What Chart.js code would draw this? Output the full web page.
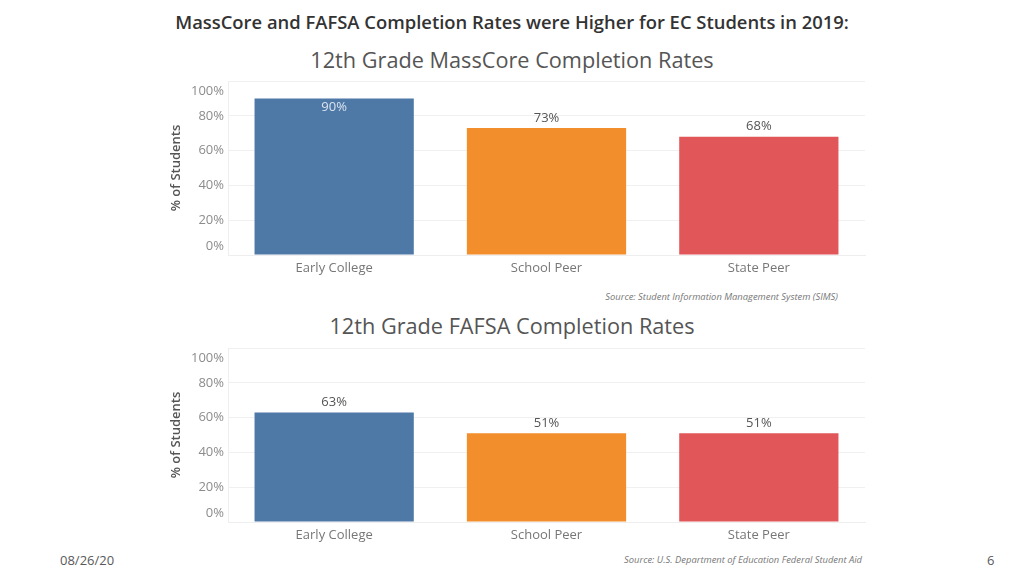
<!DOCTYPE html>
<html>
<head>
<meta charset="utf-8">
<script src="https://cdn.jsdelivr.net/npm/chart.js@4"></script>
<style>
  body { margin: 0; width: 1024px; height: 576px; background: #fff; position: relative; overflow: hidden; font-family: "Open Sans", sans-serif; }
  .t { position: absolute; white-space: nowrap; }
  .c { position: absolute; }
</style>
</head>
<body>
<div class="t" style="left:512px;top:9px;transform:translateX(-50%);font-size:18.4px;font-weight:600;color:#333;">MassCore and FAFSA Completion Rates were Higher for EC Students in 2019:</div>
<div class="t" style="left:512px;top:45px;transform:translateX(-50%);font-size:21.7px;color:#555;">12th Grade MassCore Completion Rates</div>
<div class="t" style="left:512px;top:311px;transform:translateX(-50%);font-size:21.7px;color:#555;">12th Grade FAFSA Completion Rates</div>
<div class="t" style="right:186px;top:290px;font-size:9.4px;font-style:italic;color:#777;">Source: Student Information Management System (SIMS)</div>
<div class="t" style="right:162px;top:553px;font-size:9.4px;font-style:italic;color:#777;">Source: U.S. Department of Education Federal Student Aid</div>
<div class="t" style="left:60px;top:551px;font-size:13px;color:#595959;">08/26/20</div>
<div class="t" style="left:987px;top:551px;font-size:13px;color:#595959;">6</div>

<canvas class="c" id="massCore" width="720" height="210" style="left:160px;top:75px;"></canvas>
<canvas class="c" id="fafsa" width="720" height="210" style="left:160px;top:342px;"></canvas>

<script>
// data
const groups = ["Early College", "School Peer", "State Peer"];
const massCoreRates = [90, 73, 68];
const fafsaRates = [63, 51, 51];
const yTicks = [0, 20, 40, 60, 80, 100];
const barColors = ["#4e79a7", "#f28e2b", "#e15759"];

// draws the y tick labels (end labels pulled inward, like the original) and the value labels
const labelPlugin = {
  id: "labels",
  afterDraw(chart) {
    const ctx = chart.ctx;
    const y = chart.scales.y;
    const area = chart.chartArea;
    ctx.save();
    ctx.font = '13px "Open Sans"';
    ctx.textBaseline = "middle";

    ctx.fillStyle = "#8c8c8c";
    ctx.textAlign = "right";
    yTicks.forEach(v => {
      let py = y.getPixelForValue(v);
      if (v === 0) py -= 9;
      if (v === 100) py += 10;
      ctx.fillText(v + "%", area.left - 4, py);
    });

    ctx.textAlign = "center";
    const meta = chart.getDatasetMeta(0);
    meta.data.forEach((bar, i) => {
      const v = chart.data.datasets[0].data[i];
      const inside = bar.y - 20 < area.top;
      ctx.fillStyle = inside ? "#dbe4ee" : "#555";
      ctx.fillText(v + "%", bar.x, inside ? bar.y + 9 : bar.y - 10);
    });
    ctx.restore();
  }
};

function makeChart(id, values) {
  const ctx = document.getElementById(id).getContext("2d");
  return new Chart(ctx, {
    type: "bar",
    data: {
      labels: groups,
      datasets: [{
        data: values,
        backgroundColor: barColors,
        barPercentage: 0.75,
        categoryPercentage: 1
      }]
    },
    options: {
      responsive: false,
      animation: false,
      layout: { padding: { top: 6, right: 15, left: 0, bottom: 0 } },
      plugins: { legend: { display: false }, tooltip: { enabled: false } },
      scales: {
        x: {
          grid: { display: false, drawTicks: false },
          border: { color: "#eeeeee" },
          ticks: { color: "#777", font: { family: "Open Sans", size: 13 }, padding: 5 },
          afterFit: s => { s.height = 30; }
        },
        y: {
          min: 0,
          max: 100,
          ticks: { stepSize: 20, display: false },
          grid: { color: "#f0f0f0", drawTicks: false },
          border: { color: "#eeeeee" },
          title: {
            display: true,
            text: "% of Students",
            color: "#555",
            font: { family: "Open Sans", size: 13, weight: "600" },
            padding: { top: 8, bottom: 0 }
          },
          afterFit: s => { s.width = 68; }
        }
      }
    },
    plugins: [labelPlugin]
  });
}

makeChart("massCore", massCoreRates);
makeChart("fafsa", fafsaRates);
</script>
</body>
</html>
